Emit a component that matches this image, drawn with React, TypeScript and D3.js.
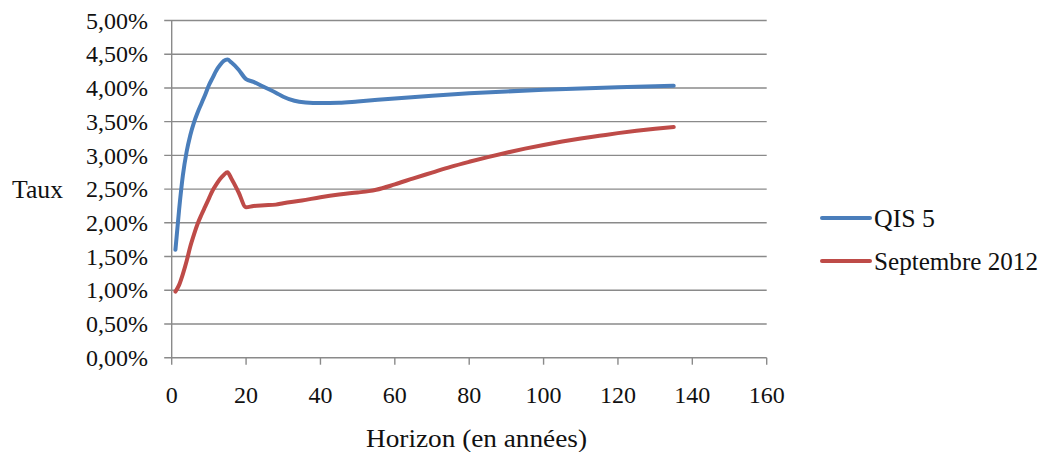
import React from "react";
import * as d3 from "d3";

const qisYears = [1, 2, 3, 4, 5, 6, 7, 8, 9, 10, 11, 12, 13, 14, 15, 16, 18, 20, 22, 25, 28, 30, 33, 36, 40, 45, 50, 60, 70, 80, 90, 100, 110, 120, 130, 135];
const qisRates = [1.60, 2.20, 2.70, 3.05, 3.30, 3.49, 3.64, 3.77, 3.90, 4.04, 4.15, 4.26, 4.34, 4.40, 4.42, 4.38, 4.27, 4.13, 4.09, 4.01, 3.93, 3.87, 3.81, 3.785, 3.775, 3.78, 3.80, 3.845, 3.885, 3.92, 3.948, 3.972, 3.993, 4.01, 4.025, 4.032];

const sepYears = [1, 2, 3, 4, 5, 6, 7, 8, 9, 10, 11, 12, 13, 14, 15, 16, 18, 20, 22, 25, 28, 30, 35, 40, 45, 50, 53, 55, 60, 65, 70, 75, 80, 85, 90, 95, 100, 105, 110, 115, 120, 125, 130, 135];
const sepRates = [0.98, 1.08, 1.24, 1.43, 1.65, 1.83, 1.99, 2.12, 2.24, 2.36, 2.48, 2.57, 2.65, 2.71, 2.75, 2.66, 2.45, 2.23, 2.25, 2.26, 2.27, 2.29, 2.33, 2.38, 2.42, 2.45, 2.47, 2.49, 2.57, 2.66, 2.745, 2.83, 2.905, 2.975, 3.04, 3.10, 3.155, 3.205, 3.25, 3.29, 3.33, 3.365, 3.395, 3.42];

const xTicks = [0, 20, 40, 60, 80, 100, 120, 140, 160];
const yTicks = [0, 0.5, 1, 1.5, 2, 2.5, 3, 3.5, 4, 4.5, 5];
const seriesNames = ["QIS 5", "Septembre 2012"];
const seriesColors = ["#4A7EBB", "#BE4B48"];

const FONT = "'Liberation Serif', 'Times New Roman', serif";

export default function App() {
  const left = 171.7, right = 766.7, top = 20.5, bottom = 357.7;
  const x = d3.scaleLinear().domain([0, 160]).range([left, right]);
  const y = d3.scaleLinear().domain([0, 5]).range([bottom, top]);
  const line = d3
    .line<[number, number]>()
    .x((d) => x(d[0]))
    .y((d) => y(d[1]))
    .curve(d3.curveMonotoneX);
  const series = [
    qisYears.map((t, i) => [t, qisRates[i]] as [number, number]),
    sepYears.map((t, i) => [t, sepRates[i]] as [number, number]),
  ];
  const fmt = (v: number) => v.toFixed(2).replace(".", ",") + "%";
  const grid = "#8A8A8A";
  const fs = 24;

  return (
    <svg width={1043} height={452} style={{ position: "absolute", left: 0, top: 0, background: "#fff" }}>
      <rect width={1043} height={452} fill="#fff" />
      {yTicks.map((v) => (
        <g key={v}>
          <line x1={left - 7.5} x2={right} y1={y(v)} y2={y(v)} stroke={grid} strokeWidth={1.4} />
          <text x={148} y={y(v)} dy="0.34em" textAnchor="end" fontFamily={FONT} fontSize={fs} fill="#111">
            {fmt(v)}
          </text>
        </g>
      ))}
      <line x1={left} x2={left} y1={top} y2={bottom} stroke={grid} strokeWidth={1.4} />
      {xTicks.map((v) => (
        <g key={v}>
          <line x1={x(v)} x2={x(v)} y1={bottom} y2={bottom + 7} stroke={grid} strokeWidth={1.4} />
          <text x={x(v)} y={403} textAnchor="middle" fontFamily={FONT} fontSize={fs} fill="#111">
            {v}
          </text>
        </g>
      ))}
      {series.map((s, i) => (
        <path key={i} d={line(s) || ""} fill="none" stroke={seriesColors[i]} strokeWidth={4} strokeLinecap="round" strokeLinejoin="round" />
      ))}
      <text x={12} y={198} fontFamily={FONT} fontSize={25} fill="#111" textLength={51} lengthAdjust="spacingAndGlyphs">Taux</text>
      <text x={366} y={447} fontFamily={FONT} fontSize={25} fill="#111" textLength={221} lengthAdjust="spacingAndGlyphs">Horizon (en années)</text>
      {seriesNames.map((n, i) => (
        <g key={n}>
          <line x1={822} x2={870} y1={218 + i * 43} y2={218 + i * 43} stroke={seriesColors[i]} strokeWidth={4} strokeLinecap="round" />
          <text x={874} y={218 + i * 43} dy="0.34em" fontFamily={FONT} fontSize={25} fill="#111" textLength={i === 0 ? 61 : 164} lengthAdjust="spacingAndGlyphs">{n}</text>
        </g>
      ))}
    </svg>
  );
}
